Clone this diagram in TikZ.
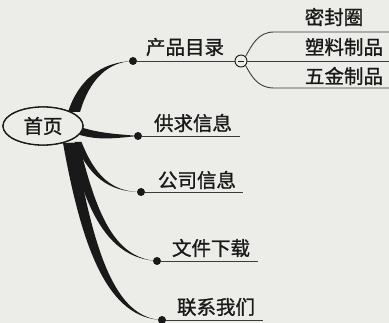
\documentclass[tikz,border=0pt]{standalone}
\usepackage{fontspec}
\newfontfamily\cjk[FakeBold=1.2]{Noto Sans CJK SC}
\usetikzlibrary{calc,shapes.geometric}
\definecolor{paper}{RGB}{236,236,233}
\definecolor{ink}{RGB}{25,25,25}
\newcommand\mytaper[5]{\fill[ink] ($(#1)+(#5)$) .. controls ($(#2)+0.9*(#5)$) and ($(#3)+0.55*(#5)$) .. (#4) .. controls ($(#3)-0.55*(#5)$) and ($(#2)-0.9*(#5)$) .. ($(#1)-(#5)$) -- cycle;}
\begin{document}
\begin{tikzpicture}[x=1pt,y=-1pt,
  lbl/.style={font=\cjk\fontsize{19.5}{19.5}\selectfont, inner sep=0pt, text=ink},
  dotn/.style={circle, fill=ink, minimum size=8pt, inner sep=0pt},
  uline/.style={draw=ink!85, line width=0.9pt},
  subline/.style={draw=ink!85, line width=0.9pt},
  homeshape/.style={ellipse, draw=ink, line width=1.3pt, minimum width=80pt, minimum height=38pt, fill=paper, inner sep=0pt}]
\fill[paper] (0,0) rectangle (389,323);
\useasboundingbox (0,0) rectangle (389,323);

% home
\node[homeshape] (home) at (43,126) {};

% dots
\node[dotn] (d1) at (133,61) {};
\node[dotn] (d2) at (138,136) {};
\node[dotn] (d3) at (141,192) {};
\node[dotn] (d4) at (157,261) {};
\node[dotn] (d5) at (162,320) {};

% roots
\coordinate (r1) at (74,112);
\coordinate (r2) at (80,131);
\coordinate (r3) at (78,142);
\coordinate (r4) at (74,143);
\coordinate (r5) at (69,143);

% tapered branches
\mytaper{r1}{84,80}{104,62}{d1.center}{6,0}
\mytaper{r2}{100,137}{115,136}{d2.center}{0,4}
\mytaper{r3}{92,176}{110,192}{d3.center}{3.5,0}
\mytaper{r4}{92,215}{112,258}{d4.center}{5,0}
\mytaper{r5}{88,252}{112,318}{d5.center}{6,0}

\node[homeshape] at (home) {};
\node[lbl] at (home) {首页};

% minus circle
\node[circle, draw=ink, line width=0.9pt, fill=paper, minimum size=12pt, inner sep=0pt] (mc) at (241,61) {};
\draw[ink, line width=0.9pt] (238,61) -- (244,61);

% ends
\coordinate (e2) at (240,136);
\coordinate (e3) at (243,192);
\coordinate (e4) at (258,261);
\coordinate (e5) at (263,320);
\coordinate (s1) at (389,32);
\coordinate (s2) at (389,61);
\coordinate (s3) at (389,88);

\draw[uline] (d1) -- (mc);
\draw[uline] (d2) -- (e2);
\draw[uline] (d3) -- (e3);
\draw[uline] (d4) -- (e4);
\draw[uline] (d5) -- (e5);

\draw[subline] (mc.north east) .. controls (252,45) and (258,32) .. (274,32) -- (s1);
\draw[subline] (mc.east) -- (s2);
\draw[subline] (mc.south east) .. controls (252,77) and (258,88) .. (274,88) -- (s3);

% labels
\node[lbl] at (185,47) {产品目录};
\node[lbl] at (193,123) {供求信息};
\node[lbl] at (197,180) {公司信息};
\node[lbl] at (211,248) {文件下载};
\node[lbl] at (216,307) {联系我们};
\node[lbl] at (334,17) {密封圈};
\node[lbl] at (344,47) {塑料制品};
\node[lbl] at (344,76) {五金制品};
\end{tikzpicture}
\end{document}
